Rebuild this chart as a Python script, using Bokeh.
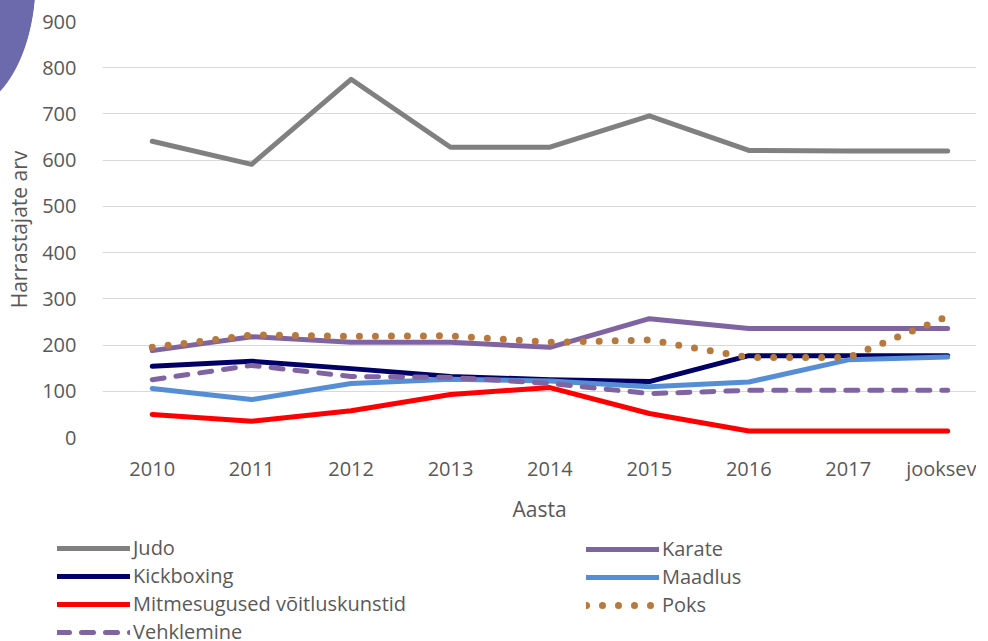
from bokeh.plotting import figure
from bokeh.models import (Range1d, FixedTicker, Legend, LegendItem)
from bokeh.layouts import column
from bokeh.embed import file_html
from bokeh.resources import INLINE

categories = ["2010", "2011", "2012", "2013", "2014", "2015", "2016", "2017", "jooksev"]
judo = [641, 591, 775, 628, 628, 696, 621, 620, 620]
karate = [188, 218, 206, 206, 195, 257, 236, 236, 236]
kickboxing = [154, 165, 149, 132, 125, 121, 177, 177, 177]
maadlus = [106, 82, 117, 126, 122, 110, 120, 168, 174]
mitmesugused = [50, 35, 58, 93, 108, 52, 14, 14, 14]
poks = [195, 222, 219, 220, 206, 211, 173, 173, 262]
vehklemine = [125, 156, 132, 130, 117, 95, 102, 102, 102]
y_ticks = [0, 100, 200, 300, 400, 500, 600, 700, 800, 900]

xs = [i + 0.5 for i in range(len(categories))]
series = {"judo": judo, "karate": karate, "kick": kickboxing, "maad": maadlus,
          "mitme": mitmesugused, "poks": poks, "veh": vehklemine}

TXT = "#595959"
FONT = "Open Sans"

styles = {
    "judo": dict(line_color="#808080", line_width=5),
    "karate": dict(line_color="#8064A2", line_width=5),
    "kick": dict(line_color="#000066", line_width=5),
    "maad": dict(line_color="#558ED5", line_width=5),
    "mitme": dict(line_color="#FF0000", line_width=5),
    "poks": dict(line_color="#B7793D", line_width=7, line_dash="0 16"),
    "veh": dict(line_color="#8064A2", line_width=5, line_dash="12 12"),
}
common = dict(line_join="round", line_cap="round")

W = 976
p = figure(width=W, height=532, output_backend="svg", toolbar_location=None,
           x_range=Range1d(0, 8.79), y_range=Range1d(0, 900),
           min_border_left=102, min_border_right=0, min_border_top=21,
           min_border_bottom=95, outline_line_color=None)
p.background_fill_color = "white"
p.border_fill_alpha = 0
p.styles = {
    "background-color": "white",
    "background-image": "radial-gradient(76px 132px at -40px -20px, #6c69ad 99%, rgba(108,105,173,0) 100%)",
    "background-repeat": "no-repeat",
}

p.xgrid.grid_line_color = None
p.ygrid.grid_line_color = "#D9D9D9"
p.ygrid.grid_line_width = 1
p.yaxis.ticker = FixedTicker(ticks=y_ticks)
p.xaxis.ticker = FixedTicker(ticks=xs)
p.xaxis.major_label_overrides = {x: c for x, c in zip(xs, categories)}

for ax in (p.xaxis, p.yaxis):
    ax.axis_line_color = None
    ax.major_tick_line_color = None
    ax.minor_tick_line_color = None
    ax.major_label_text_font = FONT
    ax.major_label_text_font_size = "20px"
    ax.major_label_text_color = TXT
    ax.axis_label_text_font = FONT
    ax.axis_label_text_font_size = "21px"
    ax.axis_label_text_color = TXT
    ax.axis_label_text_font_style = "normal"

p.yaxis.major_label_standoff = 20
p.xaxis.major_label_standoff = 11
p.xaxis.axis_label = "Aasta"
p.yaxis.axis_label = "Harrastajate arv"
p.xaxis.axis_label_standoff = 10
p.yaxis.axis_label_standoff = 6

for k in styles:
    p.line(xs, series[k], **styles[k], **common)

# legend strip below the chart (its own lines fall outside its view)
p2 = figure(width=W, height=109, output_backend="svg", toolbar_location=None,
            x_range=Range1d(0, 1), y_range=Range1d(-2000, -1900),
            x_axis_location=None, y_axis_location=None,
            min_border_left=0, min_border_right=0, min_border_top=0,
            min_border_bottom=0, outline_line_color=None)
p2.frame_align = False
p2.grid.visible = False
p2.background_fill_alpha = 0
p2.border_fill_alpha = 0

lr = {k: p2.line(xs, series[k], **styles[k], **common) for k in styles}

def make_legend(items, loc):
    return Legend(items=items, location=loc, orientation="vertical",
                  label_text_font=FONT, label_text_font_size="20px",
                  label_text_color=TXT, glyph_width=73, glyph_height=20,
                  label_height=20, label_standoff=3, spacing=1, padding=0,
                  margin=0, border_line_color=None, background_fill_alpha=0)

leg1 = make_legend([
    LegendItem(label="Judo", renderers=[lr["judo"]]),
    LegendItem(label="Kickboxing", renderers=[lr["kick"]]),
    LegendItem(label="Mitmesugused võitluskunstid", renderers=[lr["mitme"]]),
    LegendItem(label="Vehklemine", renderers=[lr["veh"]]),
], (57, -4))
leg2 = make_legend([
    LegendItem(label="Karate", renderers=[lr["karate"]]),
    LegendItem(label="Maadlus", renderers=[lr["maad"]]),
    LegendItem(label="Poks", renderers=[lr["poks"]]),
], (586, 23))
p2.add_layout(leg1, "center")
p2.add_layout(leg2, "center")

layout = column(p, p2, spacing=0)
open("out.html", "w").write(file_html(layout, INLINE))
